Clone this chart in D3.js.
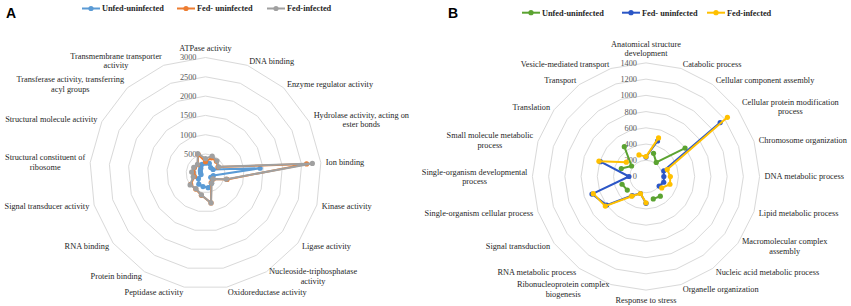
<!DOCTYPE html>
<html>
<head>
<meta charset="utf-8">
<script src="https://cdn.jsdelivr.net/npm/d3@7"></script>
<style>
  body { margin: 0; background: #fff; }
  svg { display: block; }
  text { font-family: "Liberation Serif", "Times New Roman", serif; }
</style>
</head>
<body>
<div id="chart"></div>
<script>
// Panel A - molecular function
const catsA = [
  "ATPase activity", "DNA binding", "Enzyme regulator activity",
  "Hydrolase activity, acting on\nester bonds", "Ion binding", "Kinase activity",
  "Ligase activity", "Nucleoside-triphosphatase\nactivity", "Oxidoreductase activity",
  "Peptidase activity", "Protein binding", "RNA binding", "Signal transducer activity",
  "Structural constituent of\nribosome", "Structural molecule activity",
  "Transferase activity, transferring\nacyl groups", "Transmembrane transporter\nactivity"
];
const ticksA = [0, 500, 1000, 1500, 2000, 2500, 3000];
const unfedA = [260, 275, 200, 220, 1420, 210, 170, 300, 380, 350, 330, 230, 120, 130, 150, 180, 250];
const fedA   = [300, 430, 420, 360, 2630, 580, 250, 280, 780, 580, 480, 480, 300, 330, 320, 300, 520];
const infA   = [380, 480, 440, 380, 2780, 560, 240, 300, 780, 570, 470, 500, 330, 360, 340, 310, 550];

// Panel B - biological process (null = empty cell, drawn as a gap)
const catsB = [
  "Anatomical structure\ndevelopment", "Catabolic process", "Cellular component assembly",
  "Cellular protein modification\nprocess", "Chromosome organization", "DNA metabolic process",
  "Lipid metabolic process", "Macromolecular complex\nassembly", "Nucleic acid metabolic process",
  "Organelle organization", "Response to stress", "Ribonucleoprotein complex\nbiogenesis",
  "RNA metabolic process", "Signal transduction", "Single-organism cellular process",
  "Single-organism developmental\nprocess", "Small molecule metabolic\nprocess",
  "Translation", "Transport", "Vesicle-mediated transport"
];
const ticksB = [0, 200, 400, 600, 800, 1000, 1200, 1400];
const unfedB = [null, 300, 215, 595, null, null, null, null, 300, 290, null, null, null, 285, 310, null, 320, 220, 455, null];
const fedB   = [240, 460, null, 1130, 230, 220, 230, 200, null, null, 330, 220, 290, 600, 700, 210, 590, null, null, null];
const infB   = [245, 500, null, 1240, 275, 300, 310, 240, null, null, 325, 220, 300, 620, 683, null, 610, 300, null, 280];

const seriesNames = ["Unfed-uninfected", "Fed- uninfected", "Fed-infected"];
const colorsA = ["#5b9bd5", "#ed7d31", "#a0a0a0"];
const colorsB = ["#5ba331", "#2b56c6", "#ffc000"];

const W = 851, H = 306, FS = 8.3;

const svg = d3.select("#chart").append("svg")
  .attr("width", W).attr("height", H)
  .attr("viewBox", `0 0 ${W} ${H}`);
svg.append("rect").attr("width", W).attr("height", H).attr("fill", "#fff");

function radar(o) {
  const n = o.cats.length;
  const g = svg.append("g").attr("transform", `translate(${o.cx},${o.cy})`);
  const r = d3.scaleLinear().domain([0, d3.max(o.ticks)]).range([0, o.R]);
  const a = d3.scaleLinear().domain([0, n]).range([0, 2 * Math.PI]);

  // grid rings
  const ring = d3.lineRadial().angle((d, i) => a(i)).curve(d3.curveLinearClosed);
  o.ticks.filter(t => t > 0).forEach(t => {
    g.append("path")
      .attr("d", ring.radius(r(t))(d3.range(n)))
      .attr("fill", "none")
      .attr("stroke", "#d9d9d9")
      .attr("stroke-width", 1);
  });

  // value labels on the vertical axis
  g.selectAll(".tick").data(o.ticks).join("text")
    .attr("x", -9)
    .attr("y", d => -r(d))
    .attr("dy", "0.35em")
    .attr("text-anchor", "end")
    .attr("font-size", FS)
    .attr("fill", "#595959")
    .text(d => d);

  // category labels
  o.cats.forEach((c, i) => {
    const th = a(i), s = Math.sin(th), co = Math.cos(th);
    const px = (o.R + 5) * s, py = -(o.R + 5) * co;
    const lines = c.split("\n");
    const t = g.append("text").attr("font-size", FS).attr("fill", "#262626").attr("text-anchor", "middle");
    const spans = lines.map(l => t.append("tspan").text(l));
    const w = d3.max(spans, sp => sp.node().getComputedTextLength());
    const lh = 9.5, h = lines.length * lh;
    let x = px, top;
    if (s > 0.1) x = px + w / 2;
    else if (s < -0.1) x = px - w / 2;
    if (Math.abs(s) <= 0.1) top = co > 0 ? py - h : py;
    else top = py - h / 2;
    spans.forEach((sp, k) => sp.attr("x", x).attr("y", top + lh * (k + 0.5)).attr("dy", "0.35em"));
  });

  // series
  const line = d3.lineRadial()
    .angle(d => a(d.i))
    .radius(d => r(d.v))
    .defined(d => d.v != null);

  o.series.forEach((vals, k) => {
    const pts = vals.map((v, i) => ({ i, v }));
    pts.push({ i: n, v: vals[0] });
    g.append("path")
      .attr("d", line(pts))
      .attr("fill", "none")
      .attr("stroke", o.colors[k])
      .attr("stroke-width", 2)
      .attr("stroke-linejoin", "round");
    g.selectAll(null).data(pts.slice(0, n).filter(d => d.v != null)).join("circle")
      .attr("cx", d => r(d.v) * Math.sin(a(d.i)))
      .attr("cy", d => -r(d.v) * Math.cos(a(d.i)))
      .attr("r", 2.6)
      .attr("fill", o.colors[k]);
  });

  // legend
  const lg = svg.append("g");
  o.legendX.forEach((lx, k) => {
    lg.append("line")
      .attr("x1", lx).attr("x2", lx + 18)
      .attr("y1", o.legendY).attr("y2", o.legendY)
      .attr("stroke", o.colors[k]).attr("stroke-width", 2);
    lg.append("circle").attr("cx", lx + 9).attr("cy", o.legendY).attr("r", 2.6).attr("fill", o.colors[k]);
    lg.append("text")
      .attr("x", lx + 20).attr("y", o.legendY).attr("dy", "0.35em")
      .attr("font-size", FS).attr("font-weight", "bold").attr("fill", "#262626")
      .text(seriesNames[k]);
  });

  // panel letter
  svg.append("text")
    .attr("x", o.letterX).attr("y", o.letterY)
    .style("font-family", "'Liberation Sans', Arial, sans-serif")
    .attr("font-size", 14).attr("font-weight", "bold")
    .text(o.letter);
}

radar({
  cx: 205.5, cy: 173.3, R: 115.8,
  cats: catsA, ticks: ticksA,
  series: [unfedA, fedA, infA], colors: colorsA,
  legendX: [82, 177, 267], legendY: 8.5,
  letter: "A", letterX: 6, letterY: 18
});

radar({
  cx: 646, cy: 176.5, R: 113.6,
  cats: catsB, ticks: ticksB,
  series: [unfedB, fedB, infB], colors: colorsB,
  legendX: [522, 622, 707], legendY: 12.7,
  letter: "B", letterX: 448, letterY: 18
});
</script>
</body>
</html>
